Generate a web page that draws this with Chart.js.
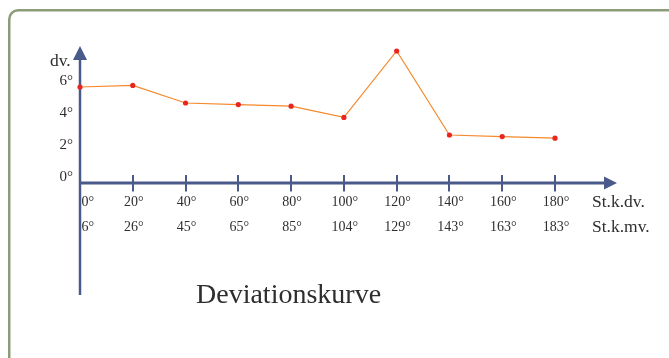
<!DOCTYPE html>
<html>
<head>
<meta charset="utf-8">
<script src="https://cdn.jsdelivr.net/npm/chart.js@4/dist/chart.umd.min.js"></script>
<style>
html,body{margin:0;padding:0;background:#fff;overflow:hidden;}
canvas{display:block;}
</style>
</head>
<body>
<canvas id="c" width="669" height="358"></canvas>
<script>
// Steering course (St.k.dv.) in degrees
const courses = [0, 20, 40, 60, 80, 100, 120, 140, 160, 180];
// Tick labels under the x axis
const dvLabels = ['0°','20°','40°','60°','80°','100°','120°','140°','160°','180°'];
const mvLabels = ['6°','26°','45°','65°','85°','104°','129°','143°','163°','183°'];
// Deviation values
const deviation = [6.0, 6.1, 5.0, 4.9, 4.8, 4.1, 8.25, 3.0, 2.9, 2.8];
// Y tick values and labels
const yTicks = [0, 2, 4, 6];
const yTickLabels = ['0°','2°','4°','6°'];
const yAxisTitle = 'dv.';
const rowTitle1 = 'St.k.dv.';
const rowTitle2 = 'St.k.mv.';
const chartTitle = 'Deviationskurve';

const SERIF = '"Liberation Serif","DejaVu Serif",serif';
const AXIS = '#4a5a8a';
const TEXT = '#2e2e2e';

const deco = {
  id: 'deco',
  beforeDraw(chart) {
    const ctx = chart.ctx;
    ctx.save();
    ctx.fillStyle = '#fff';
    ctx.fillRect(0, 0, chart.width, chart.height);
    ctx.strokeStyle = '#8b9c78';
    ctx.lineWidth = 2.5;
    ctx.beginPath();
    ctx.roundRect(9.25, 10.25, 720, 400, 9);
    ctx.stroke();
    ctx.restore();
  },
  beforeDatasetsDraw(chart) {
    const ctx = chart.ctx;
    const xs = chart.scales.x, ys = chart.scales.y;
    const ca = chart.chartArea;
    const x0 = xs.getPixelForValue(0);
    const y0 = ys.getPixelForValue(0);
    ctx.save();
    ctx.strokeStyle = AXIS;
    ctx.fillStyle = AXIS;
    // y axis
    ctx.lineWidth = 2.5;
    ctx.beginPath();
    ctx.moveTo(x0, ca.bottom);
    ctx.lineTo(x0, ca.top + 10);
    ctx.stroke();
    ctx.beginPath();
    ctx.moveTo(x0, ca.top - 1);
    ctx.lineTo(x0 - 7, ca.top + 13);
    ctx.lineTo(x0 + 7, ca.top + 13);
    ctx.closePath();
    ctx.fill();
    // x axis
    const xEnd = ca.right + 62;
    ctx.lineWidth = 3;
    ctx.beginPath();
    ctx.moveTo(x0, y0);
    ctx.lineTo(xEnd - 8, y0);
    ctx.stroke();
    ctx.beginPath();
    ctx.moveTo(xEnd, y0);
    ctx.lineTo(xEnd - 13, y0 - 6.5);
    ctx.lineTo(xEnd - 13, y0 + 6.5);
    ctx.closePath();
    ctx.fill();
    // tick marks
    ctx.lineWidth = 2;
    courses.forEach((c, i) => {
      if (i === 0) return;
      const px = Math.round(xs.getPixelForValue(c));
      ctx.beginPath();
      ctx.moveTo(px, y0 - 8);
      ctx.lineTo(px, y0 + 8.5);
      ctx.stroke();
    });
    ctx.restore();
  },
  afterDraw(chart) {
    const ctx = chart.ctx;
    const xs = chart.scales.x, ys = chart.scales.y;
    const x0 = xs.getPixelForValue(0);
    const y0 = ys.getPixelForValue(0);
    ctx.save();
    ctx.fillStyle = TEXT;
    // y tick labels
    ctx.font = '15px ' + SERIF;
    ctx.textAlign = 'right';
    ctx.textBaseline = 'middle';
    yTicks.forEach((v, i) => {
      ctx.fillText(yTickLabels[i], x0 - 7, ys.getPixelForValue(v) - 5.5);
    });
    // y axis title
    ctx.font = '17.5px ' + SERIF;
    ctx.textAlign = 'left';
    ctx.fillText(yAxisTitle, x0 - 30, y0 - 122);
    // x tick labels
    ctx.font = '14px ' + SERIF;
    courses.forEach((c, i) => {
      const px = xs.getPixelForValue(c);
      if (i === 0) { ctx.textAlign = 'left'; ctx.fillText(dvLabels[i], px + 1.5, y0 + 19); ctx.fillText(mvLabels[i], px + 1.5, y0 + 44.5); }
      else { ctx.textAlign = 'center'; ctx.fillText(dvLabels[i], px + 1, y0 + 19); ctx.fillText(mvLabels[i], px + 1, y0 + 44.5); }
    });
    ctx.font = '17.5px ' + SERIF;
    ctx.textAlign = 'left';
    ctx.fillText(rowTitle1, xs.getPixelForValue(180) + 37, y0 + 19);
    ctx.fillText(rowTitle2, xs.getPixelForValue(180) + 37, y0 + 44.5);
    // title
    ctx.font = '28px ' + SERIF;
    ctx.textAlign = 'left';
    ctx.fillText(chartTitle, x0 + 116, y0 + 113);
    ctx.restore();
  }
};

new Chart(document.getElementById('c'), {
  type: 'line',
  data: {
    datasets: [{
      data: courses.map((c, i) => ({ x: c, y: deviation[i] })),
      borderColor: '#f5882a',
      borderWidth: 1.2,
      pointBackgroundColor: '#e8261e',
      pointBorderWidth: 0,
      pointRadius: 2.6,
      tension: 0,
      clip: false
    }]
  },
  options: {
    responsive: false,
    animation: false,
    devicePixelRatio: 1,
    layout: { padding: { left: 80, right: 114, top: 47, bottom: 63 } },
    plugins: { legend: { display: false }, tooltip: { enabled: false }, title: { display: false } },
    scales: {
      x: { type: 'linear', min: 0, max: 180, display: false },
      y: { type: 'linear', min: -7, max: 8.5, display: false }
    }
  },
  plugins: [deco]
});
</script>
</body>
</html>
